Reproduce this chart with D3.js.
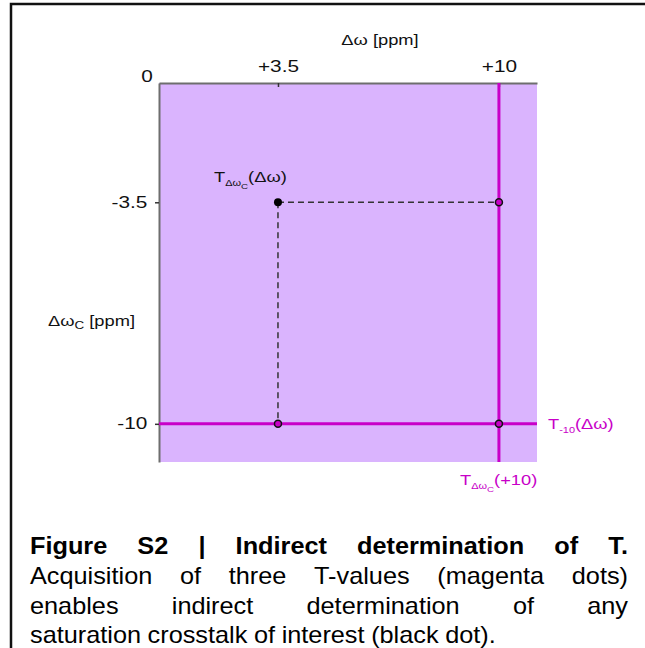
<!DOCTYPE html>
<html>
<head>
<meta charset="utf-8">
<script src="https://cdn.jsdelivr.net/npm/d3@7"></script>
<style>
  body { margin: 0; background: #fff; }
  svg { display: block; }
  text { font-family: "Liberation Sans", Arial, sans-serif; }
</style>
</head>
<body>
<svg id="chart" width="645" height="648"></svg>
<script>
//axis extents and tick values (ppm)
var axisMax = 11.12;
var xTicks = [3.5, 10];
var xTickLabels = ["+3.5", "+10"];
var yTicks = [-3.5, -10];
var yTickLabels = ["-3.5", "-10"];

//magenta lines where T is acquired
var acquiredX = [10];
var acquiredY = [-10];

//magenta dots = measured T-values, black dot = crosstalk of interest
var measuredPoints = [{x: 10, y: -3.5}, {x: 3.5, y: -10}, {x: 10, y: -10}];
var targetPoint = {x: 3.5, y: -3.5};

var captionTitle = "Figure S2 | Indirect determination of T.";
var captionLines = ["Acquisition of three T-values (magenta dots)",
                    "enables indirect determination of any",
                    "saturation crosstalk of interest (black dot)."];

var magenta = "#c800c8";
var svg = d3.select("#chart");

//the original figure text is a bit wider than Arial, so stretch it
var tickStretch = 1.3;
var labelStretch = 1.22;
var capStretch = 1.1;

//outer frame (only left and top visible)
svg.append("path")
  .attr("d", "M11,660 L11,4 L660,4")
  .attr("fill", "none")
  .attr("stroke", "#111")
  .attr("stroke-width", 2.5);

var x = d3.scaleLinear().domain([0, axisMax]).range([159, 537]);
var y = d3.scaleLinear().domain([0, -axisMax]).range([83, 462]);

//lavender plot area
svg.append("rect")
  .attr("x", x(0))
  .attr("y", y(0))
  .attr("width", x(axisMax) - x(0))
  .attr("height", y(-axisMax) - y(0))
  .attr("fill", "#dab4fe");

//top axis
var topAxis = svg.append("g")
  .attr("transform", "translate(0," + y(0) + ")")
  .call(d3.axisTop(x)
    .tickValues(xTicks)
    .tickFormat(function (d, i) { return xTickLabels[i]; })
    .tickSizeInner(-4)
    .tickSizeOuter(0)
    .tickPadding(11));

//left axis
var leftAxis = svg.append("g")
  .attr("transform", "translate(" + x(0) + ",0)")
  .call(d3.axisLeft(y)
    .tickValues(yTicks)
    .tickFormat(function (d, i) { return yTickLabels[i]; })
    .tickSizeInner(4)
    .tickSizeOuter(0)
    .tickPadding(5));

[topAxis, leftAxis].forEach(function (ax) {
  ax.select(".domain").attr("stroke", "#6e6e6e").attr("stroke-width", 2);
  ax.selectAll(".tick line").attr("stroke", "#333").attr("stroke-width", 1.5);
  ax.selectAll(".tick text")
    .attr("fill", "#111")
    .attr("transform", "scale(" + tickStretch + ",1)")
    .style("font-size", "16px")
    .style("font-family", "'Liberation Sans', Arial, sans-serif");
});

//plain text helper with horizontal stretch
function stretchedText(px, py, size, sx, anchor) {
  return svg.append("text")
    .attr("transform", "translate(" + px + "," + py + ") scale(" + sx + ",1)")
    .attr("text-anchor", anchor)
    .style("font-size", size + "px")
    .attr("fill", "#111");
}

//corner zero label
stretchedText(x(0) - 12, y(0) - 1, 16, tickStretch, "middle").text("0");

//axis titles
stretchedText(380, 45, 15, labelStretch, "middle").text("Δω [ppm]");

var yTitle = stretchedText(48, 326, 15, labelStretch, "start");
yTitle.append("tspan").text("Δω");
yTitle.append("tspan").attr("dy", 3).style("font-size", "11px").text("C");
yTitle.append("tspan").attr("dy", -3).text(" [ppm]");

//magenta acquisition lines
svg.selectAll(".vline")
  .data(acquiredX)
  .enter().append("line")
  .attr("x1", function (d) { return x(d); })
  .attr("x2", function (d) { return x(d); })
  .attr("y1", y(0))
  .attr("y2", y(-axisMax))
  .attr("stroke", magenta)
  .attr("stroke-width", 3);

svg.selectAll(".hline")
  .data(acquiredY)
  .enter().append("line")
  .attr("x1", x(0))
  .attr("x2", x(axisMax))
  .attr("y1", function (d) { return y(d); })
  .attr("y2", function (d) { return y(d); })
  .attr("stroke", magenta)
  .attr("stroke-width", 3);

//dashed guides from the black dot to the measured points
var dashed = [
  {x1: targetPoint.x, y1: targetPoint.y, x2: acquiredX[0], y2: targetPoint.y},
  {x1: targetPoint.x, y1: targetPoint.y, x2: targetPoint.x, y2: acquiredY[0]}
];
svg.selectAll(".guide")
  .data(dashed)
  .enter().append("line")
  .attr("x1", function (d) { return x(d.x1); })
  .attr("y1", function (d) { return y(d.y1); })
  .attr("x2", function (d) { return x(d.x2); })
  .attr("y2", function (d) { return y(d.y2); })
  .attr("stroke", "#333")
  .attr("stroke-width", 1.5)
  .attr("stroke-dasharray", "6,4");

//dots
svg.selectAll(".measured")
  .data(measuredPoints)
  .enter().append("circle")
  .attr("cx", function (d) { return x(d.x); })
  .attr("cy", function (d) { return y(d.y); })
  .attr("r", 3.5)
  .attr("fill", magenta)
  .attr("stroke", "#111")
  .attr("stroke-width", 1.5);

svg.append("circle")
  .attr("cx", x(targetPoint.x))
  .attr("cy", y(targetPoint.y))
  .attr("r", 4)
  .attr("fill", "#000");

//T labels with nested subscripts
function tLabel(px, py, color, sub, subsub, rest) {
  var t = stretchedText(px, py, 15, labelStretch, "start").attr("fill", color);
  t.append("tspan").text("T");
  t.append("tspan").attr("dy", 4).style("font-size", "9px").text(sub);
  var shift = 4;
  if (subsub) {
    t.append("tspan").attr("dy", 3).style("font-size", "8px").text(subsub);
    shift = 7;
  }
  t.append("tspan").attr("dy", -shift).text(rest);
  return t;
}

tLabel(214, 182, "#111", "Δω", "C", "(Δω)");
tLabel(548, 429, magenta, "-10", null, "(Δω)");
tLabel(460, 485, magenta, "Δω", "C", "(+10)");

//caption, justified between two edges
var capLeft = 30, capRight = 628;

function justifyLine(words, py, weight, spread) {
  var g = svg.append("g")
    .attr("transform", "translate(" + capLeft + "," + py + ") scale(" + capStretch + ",1)");
  var nodes = words.map(function (w) {
    return g.append("text")
      .style("font-size", "23px")
      .style("font-weight", weight)
      .attr("fill", "#000")
      .text(w);
  });
  var widths = nodes.map(function (n) { return n.node().getComputedTextLength(); });
  var room = (capRight - capLeft) / capStretch;
  var gap = spread ? (room - d3.sum(widths)) / (words.length - 1) : 6;
  var cx = 0;
  nodes.forEach(function (n, i) {
    n.attr("x", cx);
    cx = cx + widths[i] + gap;
  });
}

justifyLine(captionTitle.split(" "), 554, "bold", true);
captionLines.forEach(function (line, i) {
  justifyLine(line.split(" "), 584 + i * 29.5, "normal", i < captionLines.length - 1);
});
</script>
</body>
</html>
